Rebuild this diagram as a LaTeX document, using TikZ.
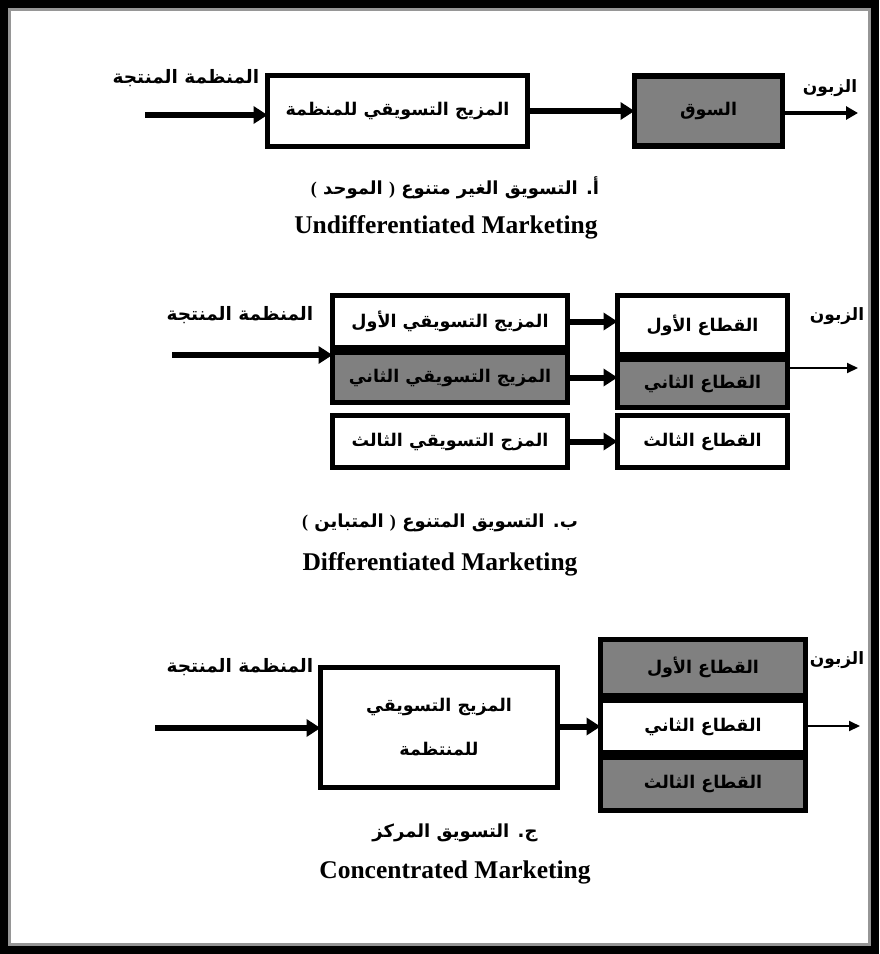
\documentclass[tikz,border=0pt]{standalone}
\usepackage{fontspec}
\setmainfont{Liberation Serif}
\newfontfamily\arabicfont[Script=Arabic]{DejaVu Sans}
\TeXXeTstate=1
\usetikzlibrary{arrows.meta}
\definecolor{boxgray}{RGB}{128,128,128}
\definecolor{rimgray}{RGB}{150,150,150}
\newcommand{\rtltext}[1]{\beginR #1\endR}
% parentheses set in the Latin font, so that they are never mirrored
\newcommand{\lp}{{\rmfamily\bfseries (}}
\newcommand{\rp}{{\rmfamily\bfseries )}}
\newcommand{\arbox}{\arabicfont\bfseries\fontsize{17.5}{44}\selectfont}
\newcommand{\arlbl}{\arabicfont\bfseries\fontsize{18.5}{22}\selectfont}
\newcommand{\arcust}{\arabicfont\bfseries\fontsize{17}{20}\selectfont}
\newcommand{\arcap}{\arabicfont\bfseries\fontsize{18}{22}\selectfont}
\newcommand{\encap}{\bfseries\fontsize{25.5}{30}\selectfont}
\begin{document}
\begin{tikzpicture}[x=1pt,y=-1pt,
  box/.style={draw,line width=5.5pt,fill=white,inner sep=0pt,outer sep=0pt,font=\arbox},
  shade/.style={fill=boxgray},
  flow/.style={line width=6pt,-{Triangle[length=14pt,width=17pt]}},
  outflowbold/.style={line width=4pt,-{Triangle[length=12pt,width=13pt]}},
  outflow/.style={line width=2pt,-{Triangle[length=11pt,width=10pt]}},
  lbl/.style={font=\arlbl,inner sep=0pt},
  cust/.style={font=\arcust,inner sep=0pt},
  capar/.style={font=\arcap,inner sep=0pt},
  capen/.style={font=\encap,inner sep=0pt}]
\useasboundingbox (0,0) rectangle (879,954);
% frame
\fill[black] (0,0) rectangle (879,954);
\fill[rimgray] (8,8) rectangle (871,946);
\fill[white] (11,11) rectangle (868,943);

% ---- Undifferentiated marketing
\node[box,minimum width=260,minimum height=71] (A1) at (397.5,111) {\rtltext{المزيج التسويقي للمنظمة}};
\node[box,shade,minimum width=148,minimum height=70] (A2) at (708.5,111) {\rtltext{السوق}};
\node[lbl] (prodA) at (186,78) {\rtltext{المنظمة المنتجة}};
\node[cust] (custA) at (830,88) {\rtltext{الزبون}};
\coordinate (inA) at (145,115);
\coordinate (outA) at (858,113);
\draw[flow] (inA) -- (inA -| A1.west);
\draw[flow] (A1.east) -- (A2.west);
\draw[outflowbold] (A2.east |- outA) -- (outA);
\node[capar] (capAar) at (455,188) {\rtltext{أ. التسويق الغير متنوع \rp{} الموحد \lp}};
\node[capen] (capAen) at (446,227) {Undifferentiated Marketing};

% ---- Differentiated marketing
\node[box,minimum width=235,minimum height=52] (B1) at (450,321.5) {\rtltext{المزيج التسويقي الأول}};
\node[box,shade,minimum width=235,minimum height=50] (B2) at (450,377.5) {\rtltext{المزيج التسويقي الثاني}};
\node[box,minimum width=235,minimum height=52] (B3) at (450,441.5) {\rtltext{المزج التسويقي الثالث}};
\node[box,minimum width=170,minimum height=59] (R1) at (702.5,325) {\rtltext{القطاع الأول}};
\node[box,shade,minimum width=170,minimum height=48] (R2) at (702.5,383.5) {\rtltext{القطاع الثاني}};
\node[box,minimum width=170,minimum height=52] (R3) at (702.5,441.5) {\rtltext{القطاع الثالث}};
\node[lbl] (prodB) at (240,315) {\rtltext{المنظمة المنتجة}};
\node[cust] (custB) at (837,316) {\rtltext{الزبون}};
\coordinate (inB) at (172,355);
\coordinate (outB) at (858,368);
\draw[flow] (inB) -- (inB -| B2.west);
\draw[flow] (B1.east) -- (B1.east -| R1.west);
\draw[flow] (B2.east) -- (B2.east -| R2.west);
\draw[flow] (B3.east) -- (B3.east -| R3.west);
\draw[outflow] (R2.east |- outB) -- (outB);
\node[capar] (capBar) at (440,523) {\rtltext{ب. التسويق المتنوع \rp{} المتباين \lp}};
\node[capen] (capBen) at (440,564) {Differentiated Marketing};

% ---- Concentrated marketing
\node[box,minimum width=237,minimum height=120,align=center] (C1) at (439,727.5) {\rtltext{المزيج التسويقي}\\\rtltext{للمنتظمة}};
\node[box,shade,minimum width=205,minimum height=56] (S1) at (703,667.5) {\rtltext{القطاع الأول}};
\node[box,minimum width=205,minimum height=52] (S2) at (703,726.5) {\rtltext{القطاع الثاني}};
\node[box,shade,minimum width=205,minimum height=53] (S3) at (703,784) {\rtltext{القطاع الثالث}};
\node[lbl] (prodC) at (240,667) {\rtltext{المنظمة المنتجة}};
\node[cust] (custC) at (837,660) {\rtltext{الزبون}};
\coordinate (inC) at (155,728);
\coordinate (outC) at (860,726);
\draw[flow] (inC) -- (inC -| C1.west);
\draw[flow] (C1.east |- S2) -- (S2.west);
\draw[outflow] (S2.east |- outC) -- (outC);
\node[capar] (capCar) at (455,833) {\rtltext{ج. التسويق المركز}};
\node[capen] (capCen) at (455,872) {Concentrated Marketing};
\end{tikzpicture}
\end{document}
